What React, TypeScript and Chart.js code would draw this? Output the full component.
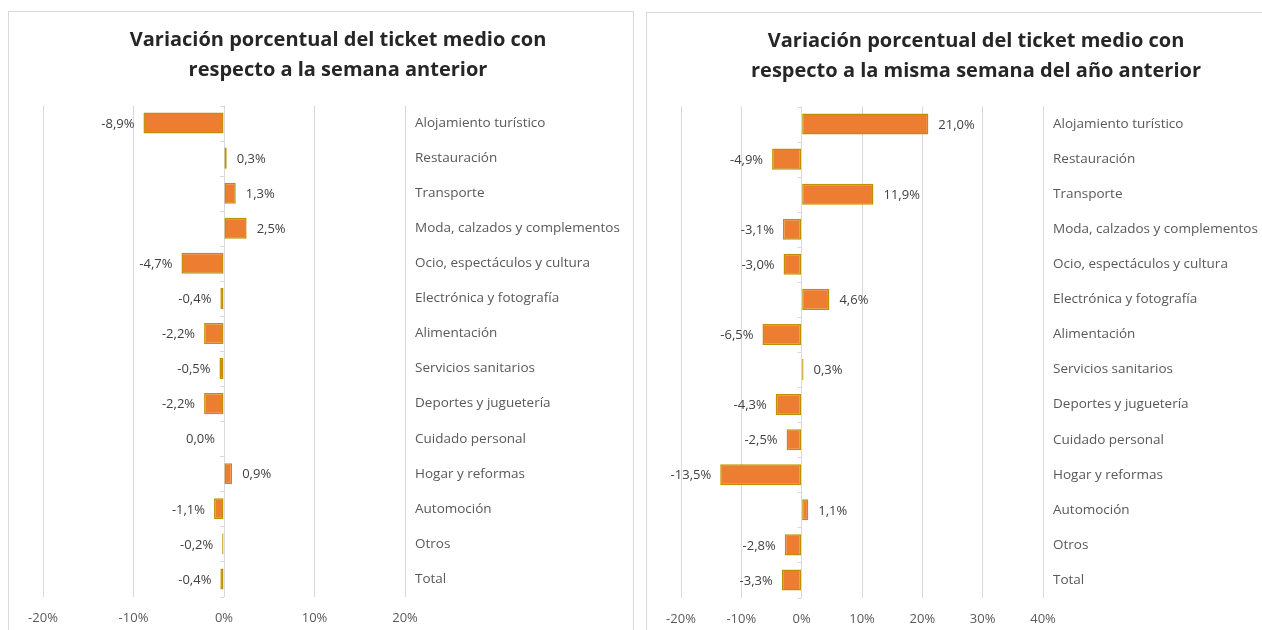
import React, { useEffect, useRef } from "react";
import { Chart, registerables } from "chart.js";

Chart.register(...registerables);

const categories = [
  "Alojamiento turístico",
  "Restauración",
  "Transporte",
  "Moda, calzados y complementos",
  "Ocio, espectáculos y cultura",
  "Electrónica y fotografía",
  "Alimentación",
  "Servicios sanitarios",
  "Deportes y juguetería",
  "Cuidado personal",
  "Hogar y reformas",
  "Automoción",
  "Otros",
  "Total",
];

const weeklyChange = [-8.9, 0.3, 1.3, 2.5, -4.7, -0.4, -2.2, -0.5, -2.2, 0.0, 0.9, -1.1, -0.2, -0.4];
const yearlyChange = [21.0, -4.9, 11.9, -3.1, -3.0, 4.6, -6.5, 0.3, -4.3, -2.5, -13.5, 1.1, -2.8, -3.3];

const leftTitle = ["Variación porcentual del ticket medio con", "respecto a la semana anterior"];
const rightTitle = ["Variación porcentual del ticket medio con", "respecto a la misma semana del año anterior"];

const leftRange = { min: -20, max: 20 };
const rightRange = { min: -20, max: 40 };

const FONT = "'Open Sans', sans-serif";
const TEXT = "#595959";
const GRID = "#d9d9d9";

const fmt = (v: number) => v.toFixed(1).replace(".", ",") + "%";

const labelPlugin = {
  id: "barLabels",
  afterDatasetsDraw(chart: any) {
    const ctx = chart.ctx;
    const meta = chart.getDatasetMeta(0);
    const data = chart.data.datasets[0].data as number[];
    ctx.save();
    ctx.font = `13px ${FONT}`;
    ctx.fillStyle = "#404040";
    ctx.textBaseline = "middle";
    meta.data.forEach((bar: any, i: number) => {
      const v = data[i];
      if (v > 0) {
        ctx.textAlign = "left";
        ctx.fillText(fmt(v), bar.x + 10, bar.y + 1);
      } else {
        ctx.textAlign = "right";
        ctx.fillText(fmt(v), Math.min(bar.x, bar.base) - 9, bar.y + 1);
      }
    });
    ctx.restore();
  },
};

const zeroTicksPlugin = {
  id: "zeroTicks",
  beforeDatasetsDraw(chart: any) {
    const { ctx, scales } = chart;
    const x0 = scales.x.getPixelForValue(0);
    const y = scales.y;
    const n = chart.data.labels.length;
    const step = (y.bottom - y.top) / n;
    ctx.save();
    ctx.strokeStyle = GRID;
    ctx.lineWidth = 1;
    ctx.beginPath();
    for (let k = 0; k <= n; k++) {
      const yy = Math.round(y.top + k * step) + 0.5;
      ctx.moveTo(x0 - 4, yy);
      ctx.lineTo(x0, yy);
    }
    ctx.stroke();
    ctx.restore();
  },
};

function Panel({ title, values, range, left, top }: { title: string[]; values: number[]; range: { min: number; max: number }; left: number; top: number }) {
  const ref = useRef<HTMLCanvasElement>(null);
  useEffect(() => {
    if (!ref.current) return;
    const chart = new Chart(ref.current, {
      type: "bar",
      data: {
        labels: categories,
        datasets: [
          {
            data: values,
            backgroundColor: "#ED7D31",
            borderColor: "#C09000",
            borderWidth: 1.5,
            borderSkipped: false,
            barPercentage: 0.6,
            categoryPercentage: 1,
          },
        ],
      },
      options: {
        indexAxis: "y",
        responsive: false,
        animation: false,
        layout: { padding: { left: 34, right: 0, top: 0, bottom: 0 } },
        plugins: {
          legend: { display: false },
          tooltip: { enabled: false },
          title: {
            display: true,
            text: title,
            color: "#262626",
            font: { family: FONT, size: 20, weight: "bold", lineHeight: 30 / 20 },
            padding: { top: 13, bottom: 20.5 },
          },
        },
        scales: {
          x: {
            type: "linear",
            min: range.min,
            max: range.max,
            position: "bottom",
            grid: { color: GRID, drawTicks: false, lineWidth: 1 },
            border: { display: false },
            ticks: {
              stepSize: 10,
              padding: 14,
              color: TEXT,
              font: { family: FONT, size: 13 },
              callback: (v: any) => `${v}%`,
            },
            afterFit: (s: any) => {
              s.height = 36.5;
            },
          },
          y: {
            type: "category",
            position: "right",
            grid: { display: false, drawTicks: false },
            border: { display: false },
            ticks: {
              padding: 10,
              crossAlign: "near",
              color: TEXT,
              font: { family: FONT, size: 13.5 },
            },
            afterFit: (s: any) => {
              s.width = 228;
            },
          },
        },
      },
      plugins: [zeroTicksPlugin, labelPlugin],
    });
    return () => chart.destroy();
  }, []);
  return (
    <div
      style={{
        position: "absolute",
        left,
        top,
        width: 624,
        height: 640,
        border: `1px solid ${GRID}`,
        background: "#fff",
      }}
    >
      <canvas ref={ref} width={624} height={621} style={{ display: "block" }} />
    </div>
  );
}

export default function App() {
  return (
    <div>
      <Panel title={leftTitle} values={weeklyChange} range={leftRange} left={8} top={11} />
      <Panel title={rightTitle} values={yearlyChange} range={rightRange} left={646} top={12} />
    </div>
  );
}
